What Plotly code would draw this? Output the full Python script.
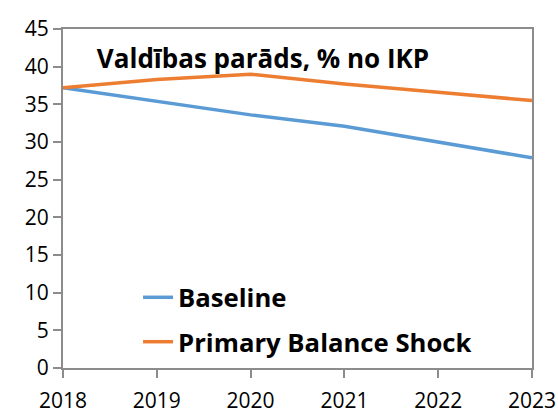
import plotly.graph_objects as go

years = [2018, 2019, 2020, 2021, 2022, 2023]
baseline = [37.2, 35.4, 33.6, 32.1, 30.0, 27.9]
pb_shock = [37.2, 38.3, 39.0, 37.7, 36.6, 35.5]
series_names = ["Baseline", "Primary Balance Shock"]
title_text = "Valdības parāds, % no IKP"
y_ticks = [0, 5, 10, 15, 20, 25, 30, 35, 40, 45]

FONT = "Open Sans"
AXIS_COLOR = "#8c8c8c"

fig = go.Figure()
fig.add_trace(go.Scatter(x=years, y=baseline, mode="lines", name="<b>" + series_names[0] + "</b>",
                         line=dict(color="#5B9BD5", width=3.5), legendgroup="a"))
fig.add_trace(go.Scatter(x=years, y=pb_shock, mode="lines", name="<b>" + series_names[1] + "</b>",
                         line=dict(color="#ED7D31", width=3.5), legendgroup="b"))

fig.update_layout(
    width=558, height=412,
    margin=dict(l=63, r=26, t=29, b=44),
    paper_bgcolor="white", plot_bgcolor="white",
    font=dict(family=FONT, color="black"),
    title=dict(text="<b>" + title_text + "</b>", x=263 / 558, y=1 - 59 / 412,
               xref="container", yref="container", xanchor="center", yanchor="middle",
               font=dict(family=FONT, size=26, color="black")),
    legend=dict(x=0.16, y=0.277, xanchor="left", yanchor="top", bgcolor="rgba(0,0,0,0)",
                font=dict(family=FONT, size=25.7, color="black"), tracegroupgap=8,
                itemclick=False),
    showlegend=True,
)
fig.update_xaxes(range=[2018, 2023], tickvals=years, ticktext=[str(y) for y in years],
                 showgrid=False, zeroline=False, showline=True, linecolor=AXIS_COLOR, linewidth=2,
                 mirror=True, ticks="outside", ticklen=8, tickcolor=AXIS_COLOR, tickwidth=1.5,
                 ticklabelstandoff=5,
                 tickfont=dict(family=FONT, size=21, color="black"), automargin=False)
fig.update_yaxes(range=[0, 45], tickvals=y_ticks, showgrid=False, zeroline=False, showline=True,
                 linecolor=AXIS_COLOR, linewidth=2, mirror=True, ticks="outside", ticklen=8,
                 tickcolor=AXIS_COLOR, tickwidth=1.5,
                 tickfont=dict(family=FONT, size=21, color="black"), automargin=False)

fig.write_html("out.html", config={"displayModeBar": False},
               post_script="document.body.style.margin='0';document.body.style.padding='0';")
